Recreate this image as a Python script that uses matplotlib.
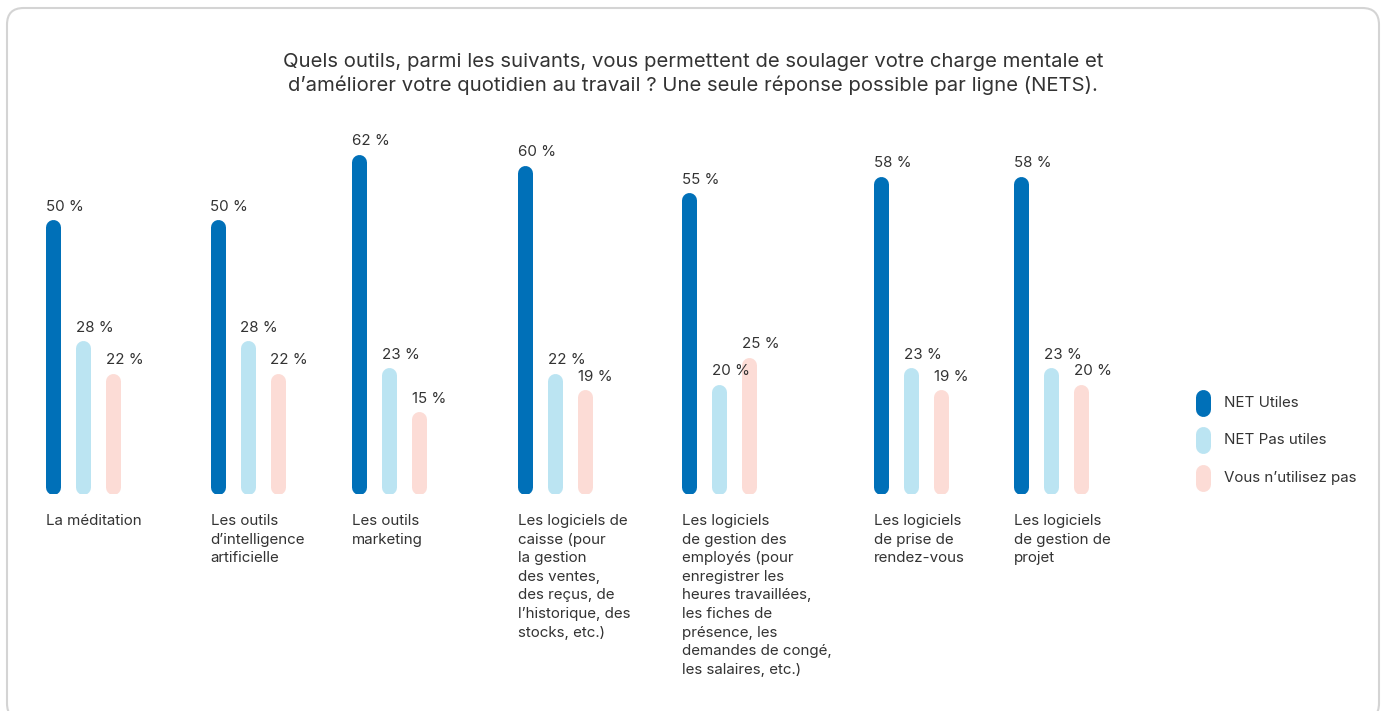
import matplotlib
matplotlib.use("Agg")
import matplotlib.pyplot as plt
from matplotlib.patches import FancyBboxPatch
from matplotlib.lines import Line2D

categories = [
    "La méditation",
    "Les outils\nd’intelligence\nartificielle",
    "Les outils\nmarketing",
    "Les logiciels de\ncaisse (pour\nla gestion\ndes ventes,\ndes reçus, de\nl’historique, des\nstocks, etc.)",
    "Les logiciels\nde gestion des\nemployés (pour\nenregistrer les\nheures travaillées,\nles fiches de\nprésence, les\ndemandes de congé,\nles salaires, etc.)",
    "Les logiciels\nde prise de\nrendez-vous",
    "Les logiciels\nde gestion de\nprojet",
]
series_names = ["NET Utiles", "NET Pas utiles", "Vous n’utilisez pas"]
net_utiles = [50, 50, 62, 60, 55, 58, 58]
net_pas_utiles = [28, 28, 23, 22, 20, 23, 23]
n_utilisez_pas = [22, 22, 15, 19, 25, 19, 20]
title = ("Quels outils, parmi les suivants, vous permettent de soulager votre charge mentale et\n"
         "d’améliorer votre quotidien au travail ? Une seule réponse possible par ligne (NETS).")

colors = ["#0070b8", "#bbe4f2", "#fcdcd6"]
group_x = [53, 218, 359, 525, 689, 881, 1021]  # layout positions (px)
offset = 30

W, H = 1386, 711
plt.rcParams['font.family'] = ['Inter', 'DejaVu Sans']
fig = plt.figure(figsize=(W / 100, H / 100), dpi=100)

# card
card = FancyBboxPatch((7 / W, (H - 720) / H), 1372 / W, 712 / H,
                      boxstyle="round,pad=0,rounding_size=0.012",
                      transform=fig.transFigure, facecolor="white",
                      edgecolor="#d4d4d4", linewidth=1.5, mutation_aspect=W / H,
                      zorder=-10)
fig.patches.append(card)

px_per_pct = 5.48
y0 = 494
ymax = 75
ax = fig.add_axes([0, (H - y0) / H, 1, ymax * px_per_pct / H])
ax.set_xlim(0, W)
ax.set_ylim(0, ymax)
ax.axis("off")
ax.set_zorder(1)

bar_w_px = 15
lw = bar_w_px * 72 / 100
r = (bar_w_px / 2) / px_per_pct
fs = 10.9
for si, vals in enumerate([net_utiles, net_pas_utiles, n_utilisez_pas]):
    for gi, v in enumerate(vals):
        x = group_x[gi] + si * offset
        ax.plot([x, x], [r, v - r], color=colors[si], linewidth=lw,
                solid_capstyle="round")
        ax.text(x - 7.5, v + 1.1, f"{v} %", ha="left", va="bottom",
                fontsize=fs, color="#333333")

for gi, cat in enumerate(categories):
    fig.text((group_x[gi] - 7.5) / W, (H - 514) / H, cat, ha="left", va="top",
             fontsize=fs, color="#333333", linespacing=1.42)

fig.text(693 / W, (H - 74) / H, title, ha="center", va="center",
         fontsize=14.6, color="#333333", linespacing=1.32)

# legend
leg_y = [403, 440, 478]
for i, name in enumerate(series_names):
    yy = (H - leg_y[i]) / H
    fig.add_artist(Line2D([1203 / W, 1203 / W], [yy - 6 / H, yy + 6 / H],
                          transform=fig.transFigure, color=colors[i],
                          linewidth=lw, solid_capstyle="round"))
    fig.text(1224 / W, yy, name, ha="left", va="center", fontsize=fs,
             color="#333333")

fig.savefig("out.png", dpi=100)
